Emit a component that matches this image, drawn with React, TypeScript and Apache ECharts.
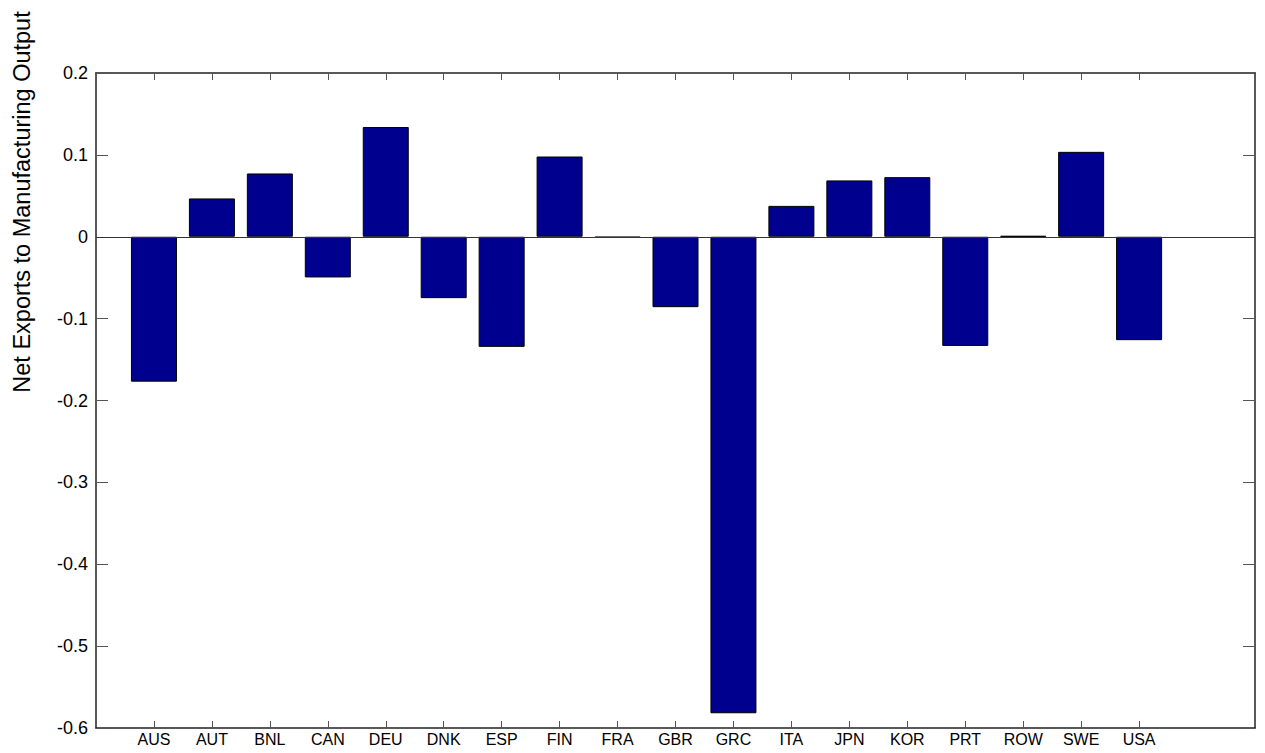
import React, { useEffect, useRef } from "react";
import * as echarts from "echarts";

const categories = ["AUS", "AUT", "BNL", "CAN", "DEU", "DNK", "ESP", "FIN", "FRA", "GBR", "GRC", "ITA", "JPN", "KOR", "PRT", "ROW", "SWE", "USA"];
const netExports = [-0.177, 0.0468, 0.0773, -0.0497, 0.134, -0.075, -0.1345, 0.098, -0.001, -0.086, -0.582, 0.0377, 0.0688, 0.0728, -0.1333, 0.001, 0.1037, -0.1263];
const yTickValues = [-0.6, -0.5, -0.4, -0.3, -0.2, -0.1, 0, 0.1, 0.2];
const yTitle = "Net Exports to Manufacturing Output";

export default function App() {
  const ref = useRef<HTMLDivElement>(null);
  useEffect(() => {
    if (!ref.current) return;
    const chart = echarts.init(ref.current, null, { renderer: "svg" });
    const xPositions = categories.map((_, i) => i + 1);
    const font = "Liberation Sans, Arial, sans-serif";
    const axisLine = { show: true, onZero: false, lineStyle: { color: "#222", width: 1.5 } };
    chart.setOption({
      animation: false,
      backgroundColor: "#fff",
      grid: { left: 96, right: 10, top: 73, bottom: 25, containLabel: false },
      xAxis: [
        {
          type: "value",
          min: 0,
          max: 20,
          position: "bottom",
          axisLine,
          splitLine: { show: false },
          axisTick: { show: true, inside: true, length: 7, customValues: xPositions, lineStyle: { color: "#555" } },
          axisLabel: {
            customValues: xPositions,
            formatter: (v: number) => categories[Math.round(v) - 1] ?? "",
            color: "#000",
            fontFamily: font,
            fontSize: 16,
            margin: 3,
          },
        },
        {
          type: "value",
          min: 0,
          max: 20,
          position: "top",
          axisLine,
          splitLine: { show: false },
          axisTick: { show: true, inside: true, length: 7, customValues: xPositions, lineStyle: { color: "#555" } },
          axisLabel: { show: false },
        },
      ],
      yAxis: [
        {
          type: "value",
          min: -0.6,
          max: 0.2,
          interval: 0.1,
          position: "left",
          axisLine,
          splitLine: { show: false },
          axisTick: { show: true, inside: true, length: 12, customValues: yTickValues, lineStyle: { color: "#555" } },
          axisLabel: {
            customValues: yTickValues,
            formatter: (v: number) => (Math.abs(v) < 1e-9 ? "0" : v.toFixed(1)),
            color: "#000",
            fontFamily: font,
            fontSize: 18,
            margin: 8,
          },
        },
        {
          type: "value",
          min: -0.6,
          max: 0.2,
          interval: 0.1,
          position: "right",
          axisLine,
          splitLine: { show: false },
          axisTick: { show: true, inside: true, length: 12, customValues: yTickValues, lineStyle: { color: "#555" } },
          axisLabel: { show: false },
        },
      ],
      graphic: [
        {
          type: "text",
          x: 22,
          y: 202,
          rotation: Math.PI / 2,
          style: {
            text: yTitle,
            fill: "#000",
            font: "23.5px Liberation Sans, Arial, sans-serif",
            align: "center",
            verticalAlign: "middle",
          },
        },
      ],
      series: [
        {
          type: "bar",
          xAxisIndex: 0,
          yAxisIndex: 0,
          barWidth: 46,
          data: xPositions.map((x, i) => [x, netExports[i]]),
          itemStyle: { color: "#00008F", borderColor: "#000", borderWidth: 1 },
          markLine: {
            silent: true,
            symbol: "none",
            label: { show: false },
            lineStyle: { color: "#333", width: 1.2, type: "solid" },
            data: [{ yAxis: 0 }],
          },
        },
      ],
    });
    return () => chart.dispose();
  }, []);
  return (
    <div
      ref={ref}
      style={{ position: "fixed", left: 0, top: 0, width: 1265, height: 753, background: "#fff" }}
    />
  );
}
